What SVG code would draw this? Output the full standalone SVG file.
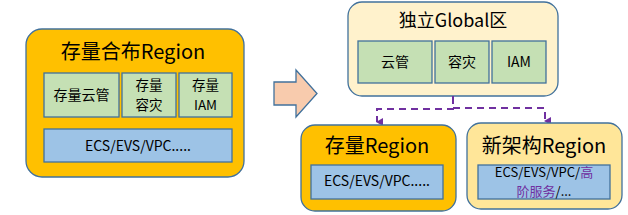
<svg xmlns="http://www.w3.org/2000/svg" width="628" height="215" viewBox="0 0 628 215">
<defs>
<style>
.t{font-family:"Noto Sans CJK SC","Liberation Sans",sans-serif;fill:#000;text-anchor:middle}
.h{font-size:20px}
.s{font-size:14px}
.m{font-size:13.5px}
.box{stroke:#41719C;stroke-width:1.3}
.g{fill:#C5E0B4;stroke:#41719C;stroke-width:1.3}
.b{fill:#9DC3E6;stroke:#41719C;stroke-width:1.3}
.c{fill:none;stroke:#7030A0;stroke-width:2;stroke-dasharray:7,5}
</style>
<marker id="ah" markerWidth="8" markerHeight="8" refX="4" refY="6" orient="auto-start-reverse" markerUnits="userSpaceOnUse" viewBox="0 0 8 8">
<path d="M0,0 L8,0 L4,7 Z" fill="#7030A0"/>
</marker>
</defs>
<rect width="628" height="215" fill="#fff"/>
<g id="left-region">
<rect class="box" x="26" y="29" width="218" height="148" rx="16" fill="#FFC000"/>
<text class="t h" x="133" y="59">存量合布Region</text>
<rect class="g" x="44" y="73" width="75" height="44"/>
<text class="t s" x="81.5" y="100">存量云管</text>
<rect class="g" x="122" y="73" width="54" height="44"/>
<text class="t m" x="149" y="90">存量</text>
<text class="t m" x="149" y="110">容灾</text>
<rect class="g" x="179" y="73" width="53" height="44"/>
<text class="t m" x="205.5" y="90">存量</text>
<text class="t m" x="205.5" y="110">IAM</text>
<rect class="b" x="44" y="129" width="188" height="33"/>
<text class="t s" x="138" y="151">ECS/EVS/VPC.....</text>
</g>
<g id="arrow">
<path d="M274,82 H296 V70 L317,93.5 L296,117 V105 H274 Z" fill="#F8CBAD" stroke="#41719C" stroke-width="1.3"/>
</g>
<g id="global">
<rect class="box" x="348" y="2" width="210" height="94" rx="14" fill="#FFF2CC"/>
<text class="t" x="453" y="27" style="font-size:18px">独立Global区</text>
<rect class="g" x="358" y="41" width="74" height="42"/>
<text class="t s" x="395" y="67">云管</text>
<rect class="g" x="435" y="41" width="54" height="42"/>
<text class="t s" x="462" y="67">容灾</text>
<rect class="g" x="492" y="41" width="54" height="42"/>
<text class="t s" x="519" y="67">IAM</text>
</g>
<g id="connectors">
<path class="c" d="M453,96 V109 H377 V122" marker-end="url(#ah)"/>
<path class="c" d="M453,96 V108 H545 V121" marker-end="url(#ah)"/>
<path d="M453,96 V104" stroke="#7030A0" stroke-width="2"/>
</g>
<g id="old-region">
<rect class="box" x="301" y="125" width="155" height="86" rx="14" fill="#FFC000"/>
<text class="t h" x="377" y="153">存量Region</text>
<rect class="b" x="311" y="165" width="132" height="34"/>
<text class="t s" x="377" y="186">ECS/EVS/VPC.....</text>
</g>
<g id="new-region">
<rect class="box" x="467" y="123" width="155" height="86" rx="14" fill="#FFE699"/>
<text class="t h" x="544" y="153">新架构Region</text>
<rect class="b" x="478" y="165" width="132" height="34"/>
<text class="t" x="544" y="177" style="font-size:13px">ECS/EVS/VPC/<tspan fill="#7030A0">高</tspan></text>
<text class="t" x="544" y="196" style="font-size:13px"><tspan fill="#7030A0">阶服务</tspan>/...</text>
</g>
</svg>
